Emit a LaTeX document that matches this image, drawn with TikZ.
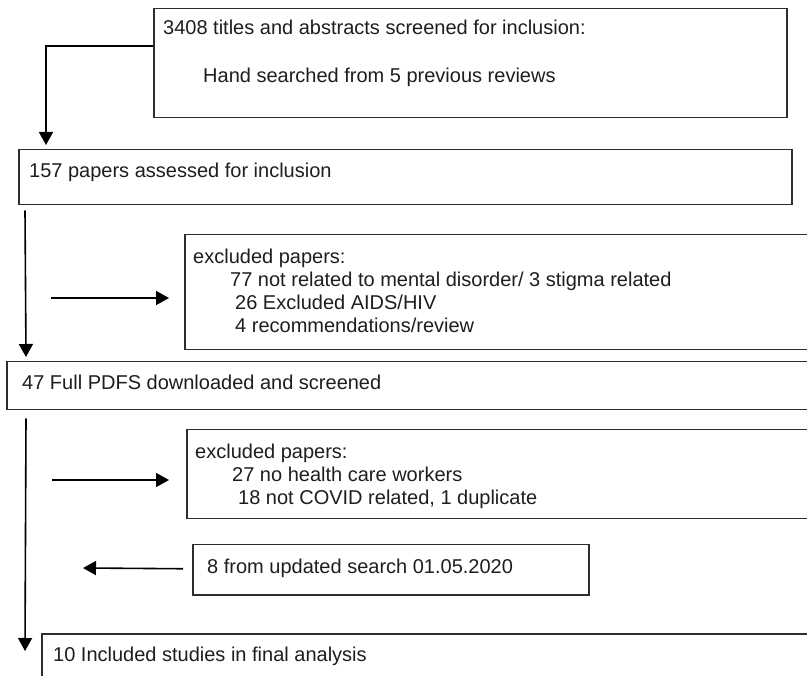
\documentclass[tikz,border=0pt]{standalone}
\usepackage{fontspec}
\setmainfont{Liberation Sans}
\usetikzlibrary{arrows.meta}
\definecolor{ink}{HTML}{1E1E1E}
\definecolor{edge}{HTML}{2E2E2E}
\tikzset{
  boxshape/.style={draw=edge, line width=1.5pt, rectangle, inner sep=0pt, anchor=north west},
  txt/.style={anchor=base west, inner sep=0pt, text=ink, font=\fontsize{20}{23}\selectfont},
  arr/.style={draw=black, line width=1.6pt, -{Triangle[length=13pt,width=14pt]}},
}
\begin{document}
\begin{tikzpicture}[x=1pt,y=-1pt]
\clip (0,0) rectangle (807,676);
\fill[white] (0,0) rectangle (807,676);

% boxes
\node[boxshape, minimum width=633, minimum height=109] (b1) at (153,8) {};
\node[boxshape, minimum width=773, minimum height=55] (b2) at (18,149) {};
\node[boxshape, minimum width=640, minimum height=115] (e1) at (184,234) {};
\node[boxshape, minimum width=820, minimum height=48] (b3) at (6,361) {};
\node[boxshape, minimum width=640, minimum height=89] (e2) at (186,429) {};
\node[boxshape, minimum width=396, minimum height=50] (b8) at (192,544) {};
\node[boxshape, minimum width=790, minimum height=70] (bf) at (41,633) {};

% texts
\node[txt] (t1a) at (163,35) {3408 titles and abstracts screened for inclusion:};
\node[txt] (t1b) at (203,83) {Hand searched from 5 previous reviews};
\node[txt] (t2) at (29,178) {157 papers assessed for inclusion};
\node[txt] (e1a) at (193,264) {excluded papers:};
\node[txt] (e1b) at (230,287) {77 not related to mental disorder/ 3 stigma related};
\node[txt] (e1c) at (235,310) {26 Excluded AIDS/HIV};
\node[txt] (e1d) at (235,333) {4 recommendations/review};
\node[txt] (t3) at (22,390) {47 Full PDFS downloaded and screened};
\node[txt] (e2a) at (195,459) {excluded papers:};
\node[txt] (e2b) at (232,482) {27 no health care workers};
\node[txt] (e2c) at (238,505) {18 not COVID related, 1 duplicate};
\node[txt] (t8) at (207,574) {8 from updated search 01.05.2020};
\node[txt] (tf) at (53,661) {10 Included studies in final analysis};

% free ends
\coordinate (a1s) at (51,298);
\coordinate (a1e) at (169,298);
\coordinate (a2s) at (52,480);
\coordinate (a2e) at (169,480);
\coordinate (a8e) at (83,568);

% connectors
\draw[arr] ([yshift=-38pt]b1.north west) -| ([xshift=28pt,yshift=4pt]b2.north west);
\draw[arr] ([xshift=7pt,yshift=-5pt]b2.south west) -- ([xshift=20pt,yshift=4pt]b3.north west);
\draw[arr] ([xshift=20pt,yshift=-8pt]b3.south west) -- ([xshift=-16pt,yshift=-18pt]bf.north west);
\draw[arr] (a1s) -- (a1e);
\draw[arr] (a2s) -- (a2e);
\draw[arr] ([xshift=-9pt,yshift=1pt]b8.west) -- (a8e);
\end{tikzpicture}
\end{document}
